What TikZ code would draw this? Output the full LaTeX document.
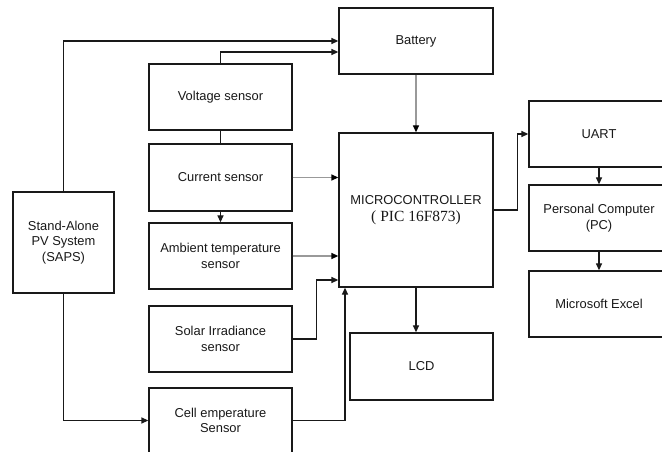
\documentclass[tikz,border=0pt]{standalone}
\usepackage{fontspec}
\setmainfont{Liberation Sans}
\newfontfamily\timesf{Liberation Serif}
\usetikzlibrary{arrows.meta}
\begin{document}
\begin{tikzpicture}[x=1bp,y=-1bp,
  box/.style={draw=black!90,line width=1.3bp,inner sep=0pt,align=center,
    font=\fontsize{12.9bp}{15.5bp}\selectfont,text=black!90},
  arr/.style={line width=1.3bp,draw=black!90,-{Triangle[length=7bp,width=6bp]}},
  garr/.style={line width=1.3bp,draw=black!40,-{Triangle[length=7bp,width=6bp,color=black]}},
  ln/.style={line width=1.3bp,draw=black!90}]
\useasboundingbox (0,0) rectangle (662,452);
\clip (0,0) rectangle (662,452);
\fill[white] (0,0) rectangle (662,452);
\node[box,minimum width=154bp,minimum height=66bp] (bat) at (416,41) {Battery};
\node[box,minimum width=143bp,minimum height=66bp] (volt) at (220.5,97) {Voltage sensor};
\node[box,minimum width=143bp,minimum height=67bp] (cur) at (220.5,177.5) {Current sensor};
\node[box,minimum width=143bp,minimum height=66bp] (amb) at (220.5,256) {Ambient temperature\\sensor};
\node[box,minimum width=143bp,minimum height=66bp] (sol) at (220.5,339) {Solar Irradiance\\sensor};
\node[box,minimum width=143bp,minimum height=65bp] (cell) at (220.5,420.5) {Cell emperature\\Sensor};
\node[box,minimum width=101bp,minimum height=101bp] (sap) at (63.5,242.5) {Stand-Alone\\PV System\\(SAPS)};
\node[box,minimum width=154bp,minimum height=154bp] (mcu) at (416,210) {MICROCONTROLLER\\[1bp]{\timesf\fontsize{15.5bp}{17bp}\selectfont ( PIC 16F873)}};
\node[box,minimum width=143bp,minimum height=67bp] (lcd) at (421.5,366.5) {LCD};
\node[box,minimum width=140bp,minimum height=66bp] (uart) at (599,134) {UART};
\node[box,minimum width=140bp,minimum height=66bp] (pc) at (599,218) {Personal Computer\\(PC)};
\node[box,minimum width=140bp,minimum height=66bp] (xl) at (599,304) {Microsoft Excel};
% connectors
\draw[arr] (sap.north) |- (bat.west);
\draw[arr] (volt.north) |- ([yshift=-11bp]bat.west);
\draw[ln] (volt.south) -- (cur.north);
\draw[arr] (cur.south) -- (amb.north);
\draw[arr] (sap.south) |- (cell.west);
\draw[garr] (bat.south) -- (mcu.north);
\draw[garr] (cur.east) -- (cur.east -| mcu.west);
\draw[garr] (amb.east) -- (amb.east -| mcu.west);
\draw[arr] (sol.east) -- ++(24,0) |- ([yshift=-70bp]mcu.west);
\draw[arr] (cell.east) -| ([xshift=-71bp]mcu.south);
\draw[arr] (mcu.south) -- (mcu.south |- lcd.north);
\draw[arr] (mcu.east) -- ++(24,0) |- (uart.west);
\draw[arr] (uart.south) -- (pc.north);
\draw[arr] (pc.south) -- (xl.north);
\end{tikzpicture}
\end{document}
